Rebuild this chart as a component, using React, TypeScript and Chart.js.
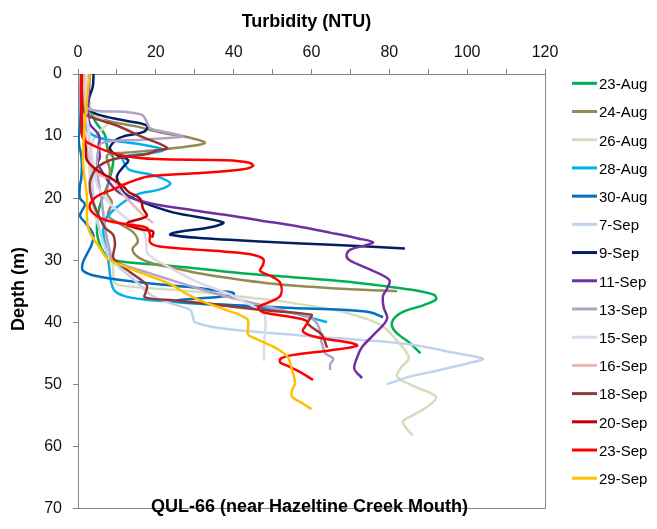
import React, { useEffect, useRef } from 'react';
import { Chart, registerables } from 'chart.js';

Chart.register(...registerables);

// [depth (m), turbidity (NTU)]
const aug23: [number, number][] = [[0,2.2],[3,2.3],[4.5,2.5],[7.6,4.4],[9.8,6.9],[12.3,7.7],[13.4,9],[15.5,8.7],[18.1,7.5],[21.2,5.6],[23.9,4.9],[26.4,5.1],[29,6.9],[30.1,10],[30.8,22],[31.5,33],[32.1,42],[32.8,56],[33.4,68],[34.2,79],[34.9,87],[35.6,91.5],[36.3,92],[37.2,89],[38.5,83],[40,80.7],[41.5,81.5],[43.2,85],[45,88]];
const aug24: [number, number][] = [[0,2.5],[3,2.6],[5.5,2.5],[6.7,3],[7.6,8],[8.4,14.6],[9.5,22],[10.3,29],[11.1,32.6],[11.7,28],[12.2,21],[12.7,12],[13.1,7.5],[15.5,8.2],[17.5,7.8],[19.2,7.4],[20.7,8.7],[22.8,7.7],[23.9,10],[25.4,14],[27,15.4],[28.2,14],[29.5,15.4],[30.5,19],[31.3,25],[32.1,31],[33,40],[33.7,48.6],[34.3,60],[34.7,70],[35,82]];
const aug26: [number, number][] = [[0,2.5],[3,2.8],[6,3.5],[7.3,6],[8,7.5],[9,6],[10.5,4],[13,3],[16,3],[20,3.5],[24,5],[27,7],[29,8.5],[31,9],[33.7,9.5],[34.2,12.6],[34.8,25],[35.4,36],[35.9,42],[36.6,52],[37.6,62],[38.3,68],[40.4,77.6],[43,82],[45.7,85],[47.3,83],[48.8,82],[50.5,87],[52,92],[53.5,90],[55,86],[56,83.5],[57.2,84.5],[58.2,86]];
const aug28: [number, number][] = [[0,1.2],[4,1.3],[7,1.8],[9,2.3],[10.3,5.6],[11.4,16.7],[12.2,22],[12.8,18],[13.4,11.6],[14.5,12],[15.5,13.4],[16.3,19.3],[17.6,23.7],[18.6,21],[19.4,15.2],[20.7,11.6],[22,9],[23.5,7],[25,6.5],[27,6.8],[29,7.5],[31,8],[33.5,8.5],[35,9.5],[35.8,12],[36.3,16.5],[37,30],[37.6,45],[38.5,55],[39.3,60],[40,64]];
const aug30: [number, number][] = [[0,0.8],[5,0.7],[9,0.5],[10,0.2],[11.5,0.3],[13,0.8],[15,1],[17,0.8],[18,0.5],[20,0.5],[21,1.8],[22.8,0.5],[23.9,1.8],[25.9,3.9],[27.5,3.5],[29,2.3],[30.5,1.2],[31.7,1.3],[32.6,5],[33.5,15],[34.3,28],[35,37],[35.3,40],[35.7,39.6],[36.2,30],[36.5,25],[36.9,30],[37.3,42],[37.7,55],[38,68],[38.4,75],[39.2,78.4]];
const sep7: [number, number][] = [[0,2],[5,2.2],[10,2.8],[15,3.5],[20,4],[25,5.5],[28,7],[29.5,8],[31,10.3],[33.5,15],[35.7,19],[37,24],[38,28.8],[39,29.5],[40,30],[40.8,35],[41.5,45],[42.6,67],[43.5,84.6],[45,97.4],[45.9,104],[46.5,101],[47.7,93],[48.8,85],[50,79.4]];
const sep9: [number, number][] = [[0,4],[2,3.8],[4,2.8],[5.5,2.6],[6.5,5],[7.5,12],[8.3,17.7],[9.3,17],[10,12],[10.5,10],[11.9,8.2],[12.9,9.5],[13.9,12.9],[15,11.6],[16.5,10],[18.1,10.8],[19.3,12.1],[20.7,16.7],[22.3,24.4],[23.9,37.3],[24.6,34.7],[25.6,24.4],[25.9,23.7],[26.4,30.6],[27,46.8],[27.5,65],[28.1,84]];
const sep11: [number, number][] = [[0,3],[3,2.8],[6,2.6],[8,3],[9.5,5],[10.3,5.6],[11.5,5.3],[13.4,5.6],[14.5,5.1],[16,6.5],[17.6,8.2],[19.2,10.8],[20.7,17.7],[22,30],[22.8,39],[23.6,46.8],[24.5,56],[25.6,65],[26.5,72],[27.1,75.8],[27.6,74],[28.3,70],[29.3,69],[30.1,70],[31.5,75],[33.2,80],[34.5,79.5],[35.7,78.4],[37.5,78.5],[39.5,79.4],[42,76],[44,73],[45.7,71.7],[47.5,71],[49,73]];
const sep13: [number, number][] = [[0,1.5],[3,1.5],[5.6,2.6],[6.1,12],[6.6,16.5],[7.5,17.5],[8.7,18.5],[9.3,22],[9.8,25.7],[10.1,26.7],[10.6,16.5],[11.1,6.2],[13,5],[16,5],[20,6],[25,7],[28,8],[30,9],[32,18],[34,28],[35.5,36],[36.3,41],[37.3,47.6],[38.3,54],[39.2,59.6],[40.3,61.5],[41.5,62.2],[43,62.5],[44.1,63],[45,63.5],[45.9,65.6],[46.8,64.8],[47.7,64.8]];
const sep15: [number, number][] = [[0,2],[5,2],[10,3],[15,4],[18,5],[20,7],[22,10],[24,14],[25.5,17],[27,17.5],[29,18],[31,23],[33,29],[34.2,33.4],[35.5,39],[36.8,43],[38.4,47.6],[40,48.2],[42,48],[44,47.8],[46.2,47.8]];
const sep16: [number, number][] = [[0,1.5],[5,1.5],[10,2],[13,2.5],[15,3.5],[16.3,5.5],[17,9],[18.5,10.5],[20,12.5],[21.5,14.8],[23,17.2],[24,19.3]];
const sep18: [number, number][] = [[0,1],[3,1],[6.4,1.8],[7.3,5],[8.3,10],[10,16],[11.9,22.9],[12.4,20],[12.9,17.7],[13.4,12],[13.9,8.2],[15,5],[16,3.9],[17.6,3],[20,3.5],[23.2,5.6],[24.8,7],[25.9,9],[27.5,9.5],[29.5,9],[30.3,10],[32,13.5],[34,17.7],[35,17.5],[36,17.2],[36.5,25],[37,33],[37.6,41],[38.2,50],[38.8,60],[39.5,59.5],[40.2,59],[41.2,61],[42,62.7],[44.1,64]];
const sep20: [number, number][] = [[0,0.8],[4,0.8],[8,1],[10,1.5],[12,2],[13.9,2.3],[15.5,4.9],[17,9],[18.1,11.6],[19,13],[20.1,16],[21.7,16.7],[22.8,17.7],[23.2,16.7],[23.9,12.9],[24.3,12.6],[25.1,16.7],[25.4,19.3],[26.4,19]];
const sep23: [number, number][] = [[0,0.8],[4,0.8],[8,1],[9.8,1],[10.8,1.8],[12.3,6.9],[13.2,12],[13.7,20],[13.9,38],[14.3,44],[14.8,45],[15.4,42],[16,30],[16.5,18],[17.6,12.6],[18.6,9],[19.7,4.9],[21.2,3],[22.5,4],[23.6,7.4],[24.3,13.4],[24.8,17.7],[25.9,18.5],[27.1,18.5],[27.8,21],[28.5,35],[29,44],[29.8,47.6],[30.8,47.5],[31.7,46.8],[32.7,50],[33.7,52],[35.7,52],[36.8,49],[37.6,46.3],[38.4,47.6],[39.2,55],[39.9,58.9],[41.5,57.8],[42.5,62],[43.3,70],[43.8,71.7],[44.5,65],[45.3,55],[45.9,52],[46.5,52],[47,53.7],[48,57],[49.3,60.4]];
const sep29: [number, number][] = [[0,3],[3,2.5],[6,2],[10,1.5],[14.5,1.3],[19.7,2.3],[24.8,2.6],[28,5.6],[29.8,7.7],[31,12],[32.1,16.5],[34,24.2],[35.3,27.5],[36.8,32.6],[38,38],[39.5,43.5],[41,43.7],[42,43.7],[42.6,45.5],[43.6,49],[44.6,52],[45.7,54],[46.6,54.5],[47.7,55],[49.8,55.8],[51,55],[52,55],[53,57.5],[54,60]];

const seriesLabels = ['23-Aug','24-Aug','26-Aug','28-Aug','30-Aug','7-Sep','9-Sep','11-Sep','13-Sep','15-Sep','16-Sep','18-Sep','20-Sep','23-Sep','29-Sep'];
const seriesData = [aug23, aug24, aug26, aug28, aug30, sep7, sep9, sep11, sep13, sep15, sep16, sep18, sep20, sep23, sep29];
const seriesColors = ['#00B050','#948A54','#D5DDBA','#00B0F0','#0070C0','#C0D3EC','#002060','#7030A0','#B3A2C7','#DDD9EA','#E6B9B8','#953735','#C00000','#FF0000','#FFC000'];

const xTitle = 'Turbidity (NTU)';
const yTitle = 'Depth (m)';
const chartTitle = 'QUL-66 (near Hazeltine Creek Mouth)';
const FONT = '"Liberation Sans", Arial, sans-serif';
const AXIS = '#868686';

const decor = {
  id: 'decor',
  afterDraw(chart: any) {
    const { ctx, chartArea } = chart;
    const { left, right, top, bottom } = chartArea;
    ctx.save();
    // right and bottom frame
    ctx.strokeStyle = AXIS;
    ctx.lineWidth = 1;
    ctx.beginPath();
    ctx.moveTo(Math.round(right) + 0.5, top);
    ctx.lineTo(Math.round(right) + 0.5, Math.round(bottom) + 0.5);
    ctx.lineTo(left, Math.round(bottom) + 0.5);
    ctx.stroke();
    // axis titles
    ctx.fillStyle = '#000';
    ctx.font = `bold 18px ${FONT}`;
    ctx.textAlign = 'center';
    ctx.textBaseline = 'alphabetic';
    ctx.fillText(xTitle, 306.5, 26.5);
    ctx.save();
    ctx.translate(24, 289);
    ctx.rotate(-Math.PI / 2);
    ctx.fillText(yTitle, 0, 0);
    ctx.restore();
    // chart title inside plot
    ctx.fillText(chartTitle, (left + right) / 2 - 2, 511.5);
    // legend
    ctx.font = `15px ${FONT}`;
    ctx.textAlign = 'left';
    seriesLabels.forEach((label, i) => {
      const y = 83.3 + i * 28.21;
      ctx.strokeStyle = seriesColors[i];
      ctx.lineWidth = 3;
      ctx.beginPath();
      ctx.moveTo(572, y);
      ctx.lineTo(597, y);
      ctx.stroke();
      ctx.fillStyle = '#000';
      ctx.fillText(label, 599, y + 5.8);
    });
    ctx.restore();
  },
};

export default function App() {
  const canvasRef = useRef<HTMLCanvasElement | null>(null);

  useEffect(() => {
    const canvas = canvasRef.current;
    if (!canvas) return;
    const chart = new Chart(canvas, {
      type: 'scatter',
      data: {
        datasets: seriesData.map((pts, i) => ({
          label: seriesLabels[i],
          data: pts.map(([d, n]) => ({ x: n, y: d })),
          showLine: true,
          borderColor: seriesColors[i],
          backgroundColor: seriesColors[i],
          borderWidth: 2.5,
          pointRadius: 0,
          pointHoverRadius: 0,
          tension: 0.35,
          order: seriesLabels.length - i,
        })),
      },
      options: {
        responsive: false,
        animation: false,
        devicePixelRatio: 1,
        layout: { padding: { left: 0, top: 0, right: 112, bottom: 6 } },
        plugins: {
          legend: { display: false },
          tooltip: { enabled: false },
          title: { display: false },
        },
        scales: {
          x: {
            type: 'linear',
            position: 'top',
            min: 0,
            max: 120,
            ticks: {
              stepSize: 10,
              autoSkip: false,
              maxRotation: 0,
              padding: 7,
              color: '#111',
              font: { size: 16, family: FONT },
              callback: (v: any) => (Number(v) % 20 === 0 ? String(v) : ''),
            },
            grid: { drawOnChartArea: false, drawTicks: true, tickLength: 5, color: AXIS },
            border: { color: AXIS, width: 1 },
            title: { display: false },
            afterFit: (s: any) => { s.height = 74; },
          },
          y: {
            type: 'linear',
            reverse: true,
            min: 0,
            max: 70,
            ticks: {
              stepSize: 10,
              padding: 11,
              color: '#111',
              font: { size: 16, family: FONT },
            },
            grid: { drawOnChartArea: false, drawTicks: true, tickLength: 5, color: AXIS },
            border: { color: AXIS, width: 1 },
            title: { display: false },
            afterFit: (s: any) => { s.width = 78; },
          },
        },
      },
      plugins: [decor],
    });
    return () => chart.destroy();
  }, []);

  return (
    <div style={{ position: 'absolute', left: 0, top: 0, width: 657, height: 529, background: '#fff' }}>
      <canvas ref={canvasRef} width={657} height={529} style={{ display: 'block' }} />
    </div>
  );
}
